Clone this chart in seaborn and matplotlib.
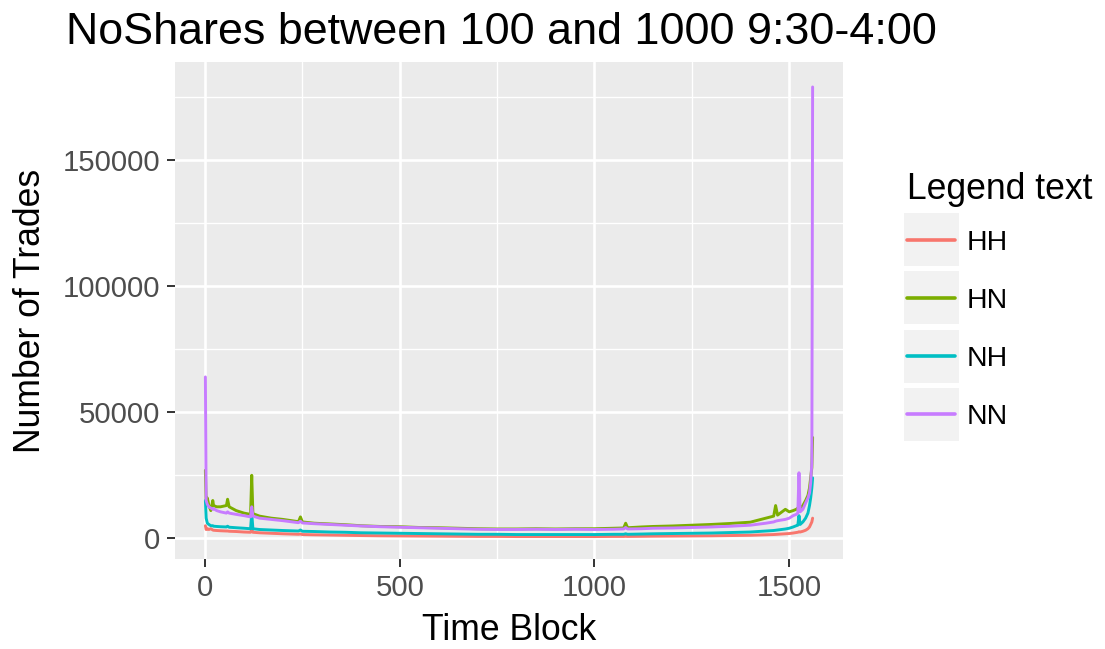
import matplotlib

matplotlib.use("Agg")
import matplotlib.pyplot as plt
import pandas as pd
import seaborn as sns
from matplotlib.patches import Rectangle
from matplotlib.ticker import MultipleLocator

# values (time block -> number of trades)
blocks = [1, 3, 6, 10, 15, 20, 22, 30, 40, 55, 58, 62, 80, 100, 117, 120, 123, 140, 170, 200,
          240, 245, 250, 280, 320, 360, 400, 450, 500, 550, 600, 650, 700, 750, 800, 850, 900,
          950, 1000, 1050, 1075, 1080, 1085, 1120, 1150, 1200, 1250, 1300, 1350, 1400, 1440,
          1460, 1465, 1470, 1490, 1500, 1510, 1518, 1522, 1525, 1528, 1535, 1542, 1548, 1552,
          1555, 1558, 1560]
hh = [5000, 3500, 3800, 3500, 3800, 3300, 3200, 3100, 3000, 2900, 2900, 2800, 2700, 2500, 2400,
      3500, 2400, 2200, 2000, 1800, 1600, 1700, 1500, 1400, 1300, 1200, 1100, 1000, 950, 900,
      850, 800, 750, 750, 700, 700, 700, 700, 700, 750, 750, 800, 750, 800, 850, 900, 950, 1000,
      1100, 1200, 1400, 1500, 1550, 1600, 1800, 1900, 2100, 2300, 2400, 2600, 2500, 2800, 3200,
      3800, 4500, 5500, 6500, 8000]
hn = [27000, 14000, 16000, 13000, 11000, 15000, 13000, 12500, 12500, 13000, 15500, 12500, 11000,
      10000, 9500, 25000, 9800, 8800, 8000, 7500, 6600, 8500, 6500, 6000, 5700, 5400, 5000, 4700,
      4600, 4300, 4200, 4000, 3800, 3700, 3700, 3800, 3700, 3800, 3800, 4000, 4100, 6000, 4200,
      4500, 4700, 4900, 5200, 5500, 5900, 6400, 8000, 8800, 13000, 9200, 11500, 10500, 11000,
      11500, 12000, 12000, 12000, 13000, 15000, 17000, 20000, 24000, 28000, 40000]
nh = [15000, 8000, 6000, 5500, 5000, 5000, 4800, 4700, 4600, 4500, 4800, 4400, 4200, 4000, 3800,
      10000, 3800, 3500, 3300, 3100, 2900, 3300, 2800, 2700, 2500, 2400, 2200, 2100, 2000, 1900,
      1800, 1700, 1600, 1600, 1500, 1500, 1500, 1500, 1500, 1600, 1600, 1800, 1600, 1700, 1800,
      1900, 2000, 2100, 2300, 2500, 2900, 3100, 3200, 3300, 3700, 4000, 4500, 5000, 5200, 9000,
      5500, 6500, 8000, 10000, 13000, 16000, 20000, 24000]
nn = [64000, 15000, 13500, 12500, 12000, 11500, 11800, 11000, 10500, 10000, 10500, 10000, 9500,
      9000, 8500, 12500, 8800, 8000, 7500, 7000, 6200, 6800, 6100, 5800, 5500, 5200, 4900, 4600,
      4400, 4200, 4000, 3800, 3600, 3500, 3500, 3600, 3500, 3600, 3500, 3600, 3700, 4300, 3700,
      3800, 4000, 4100, 4300, 4500, 4800, 5200, 6000, 6500, 6800, 7000, 7500, 8000, 9000, 9500,
      10000, 26000, 10500, 11500, 14000, 16000, 18000, 22000, 30000, 179000]

series_names = ["HH", "HN", "NH", "NN"]
palette = ["#F8766D", "#7CAE00", "#00BFC4", "#C77CFF"]
x_ticks = [0, 500, 1000, 1500]
y_ticks = [0, 50000, 100000, 150000]

df = pd.DataFrame({"Time Block": blocks, "HH": hh, "HN": hn, "NH": nh, "NN": nn})
df = df.melt(id_vars="Time Block", var_name="Legend text", value_name="Number of Trades")

sns.set_theme(style="darkgrid", rc={"xtick.bottom": True, "ytick.left": True})
plt.rcParams["font.family"] = ["Liberation Sans", "DejaVu Sans"]

W, H = 1105, 649
fig = plt.figure(figsize=(W / 100, H / 100), dpi=100)
ax = fig.add_axes([175 / W, 1 - 559 / H, (843 - 175) / W, (559 - 62) / H])

sns.lineplot(
    data=df,
    x="Time Block",
    y="Number of Trades",
    hue="Legend text",
    hue_order=series_names,
    palette=palette,
    linewidth=2.1,
    errorbar=None,
    ax=ax,
)

ax.set_facecolor("#EBEBEB")
ax.set_xlim(-77, 1638)
ax.set_ylim(-8200, 188900)
ax.set_xticks(x_ticks, [str(v) for v in x_ticks])
ax.set_yticks(y_ticks, [str(v) for v in y_ticks])
ax.xaxis.set_minor_locator(MultipleLocator(250))
ax.yaxis.set_minor_locator(MultipleLocator(25000))
ax.grid(which="major", color="white", linewidth=1.9)
ax.grid(which="minor", color="white", linewidth=0.95)
ax.set_axisbelow(True)
ax.tick_params(which="minor", length=0)
ax.tick_params(which="major", length=5.5, width=1.4, color="#333333",
               labelsize=21.2, labelcolor="#4D4D4D", pad=5)
for s in ax.spines.values():
    s.set_visible(False)

ax.set_xlabel("Time Block", fontsize=25.6, color="black", labelpad=8)
ax.set_ylabel("Number of Trades", fontsize=25.6, color="black", labelpad=11)
fig.text(501 / W, 1 - 44 / H, "NoShares between 100 and 1000 9:30-4:00",
         fontsize=32.3, ha="center", va="baseline", color="black")

leg = ax.legend(
    title="Legend text",
    loc="upper left",
    bbox_to_anchor=(907 / W, 1 - 172 / H),
    bbox_transform=fig.transFigure,
    frameon=False,
    fontsize=20.5,
    title_fontsize=25.6,
    handlelength=1.69,
    labelspacing=1.13,
    handletextpad=0.4,
    borderpad=0,
    borderaxespad=0,
    alignment="left",
    labelcolor="black",
)
leg._legend_box.sep = 16.4  # gap between legend title and first key
leg.get_title().set_color("black")
for h in leg.get_lines():
    h.set_linewidth(2.6)

# grey key boxes behind the legend lines, ggplot style
fig.canvas.draw()
for h in leg.get_lines():
    bb = h.get_window_extent()
    cx, cy = (bb.x0 + bb.x1) / 2, (bb.y0 + bb.y1) / 2
    fig.add_artist(Rectangle(((cx - 27.5) / W, (cy - 26.5) / H), 55 / W, 53 / H,
                             transform=fig.transFigure, facecolor="#F2F2F2",
                             edgecolor="none", zorder=-1))

fig.savefig("out.png", dpi=100)
